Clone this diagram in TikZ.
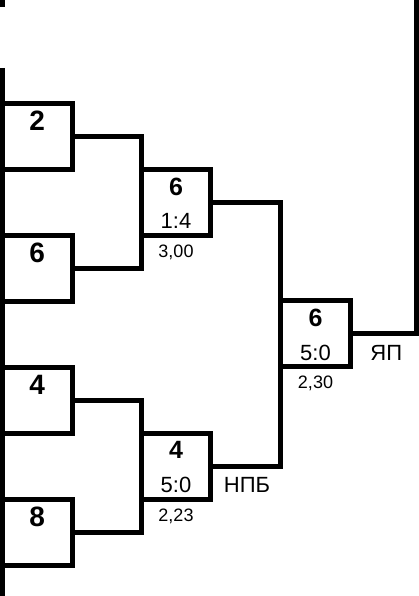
\documentclass[tikz,border=0pt]{standalone}
\usepackage{fontspec}
\setmainfont{Liberation Sans}
\usetikzlibrary{positioning}
\tikzset{
  box/.style={draw, line width=5pt, minimum width=69.5pt, minimum height=66pt, inner sep=0pt, outer sep=0pt},
  seed/.style={font=\fontsize{28}{30}\selectfont\bfseries, inner sep=0pt},
  win/.style={font=\fontsize{25}{27}\selectfont\bfseries, inner sep=0pt},
  score/.style={font=\fontsize{22}{24}\selectfont, inner sep=0pt},
  time/.style={font=\fontsize{18}{20}\selectfont, inner sep=0pt},
  link/.style={line width=5pt},
}
\begin{document}
\begin{tikzpicture}[x=1pt,y=1pt]
\useasboundingbox (0,0) rectangle (419,596);
% first round:
\node[box] (b1) at (37.25,459.5) {};
\node[box] (b2) at (37.25,327.5) {};
\node[box] (b3) at (37.25,195.5) {};
\node[box] (b4) at (37.25,63.5) {};
\node[seed, below=7.5pt of b1.north] (n1) {2};
\node[seed, below=7.5pt of b2.north] (n2) {6};
\node[seed, below=7.5pt of b3.north] (n3) {4};
\node[seed, below=7.5pt of b4.north] (n4) {8};
% second round:
\node[box] (r1) at (176,393.5) {};
\node[box] (r2) at (176,129.5) {};
\node[win, below=8pt of r1.north] (w1) {6};
\node[win, below=8pt of r2.north] (w2) {4};
\node[score, anchor=base] (s1) at ([yshift=6.5pt]r1.south) {1:4};
\node[score, anchor=base] (s2) at ([yshift=6.5pt]r2.south) {5:0};
\node[time, below=9pt of r1.south] (t1) {3,00};
\node[time, below=9pt of r2.south] (t2) {2,23};
\node[score, anchor=base west] (c2) at ([xshift=13pt]s2.base -| r2.east) {НПБ};
% final:
\node[box] (f) at (315.5,262) {};
\node[win, below=7.5pt of f.north] (wf) {6};
\node[score, anchor=base] (sf) at ([yshift=6.5pt]f.south) {5:0};
\node[time, below=9pt of f.south] (tf) {2,30};
\node[score, anchor=base west] (cf) at ([xshift=20pt]sf.base -| f.east) {ЯП};
% lines:
\draw[link] (b1.east) -| (r1.north west);
\draw[link] (b2.east) -| (r1.south west);
\draw[link] (b3.east) -| (r2.north west);
\draw[link] (b4.east) -| (r2.south west);
\draw[link] (r1.east) -| (f.north west);
\draw[link] (r2.east) -| (f.south west);
\coordinate (top) at (416.8,601);
\draw[link] (f.east) -| (top);
\coordinate (lt) at (2.5,528);
\coordinate (lb) at (2.5,-5);
\draw[link] (lt) -- (lb);
\coordinate (mt) at (2.5,601);
\coordinate (mb) at (2.5,589);
\draw[link] (mt) -- (mb);
\end{tikzpicture}
\end{document}
